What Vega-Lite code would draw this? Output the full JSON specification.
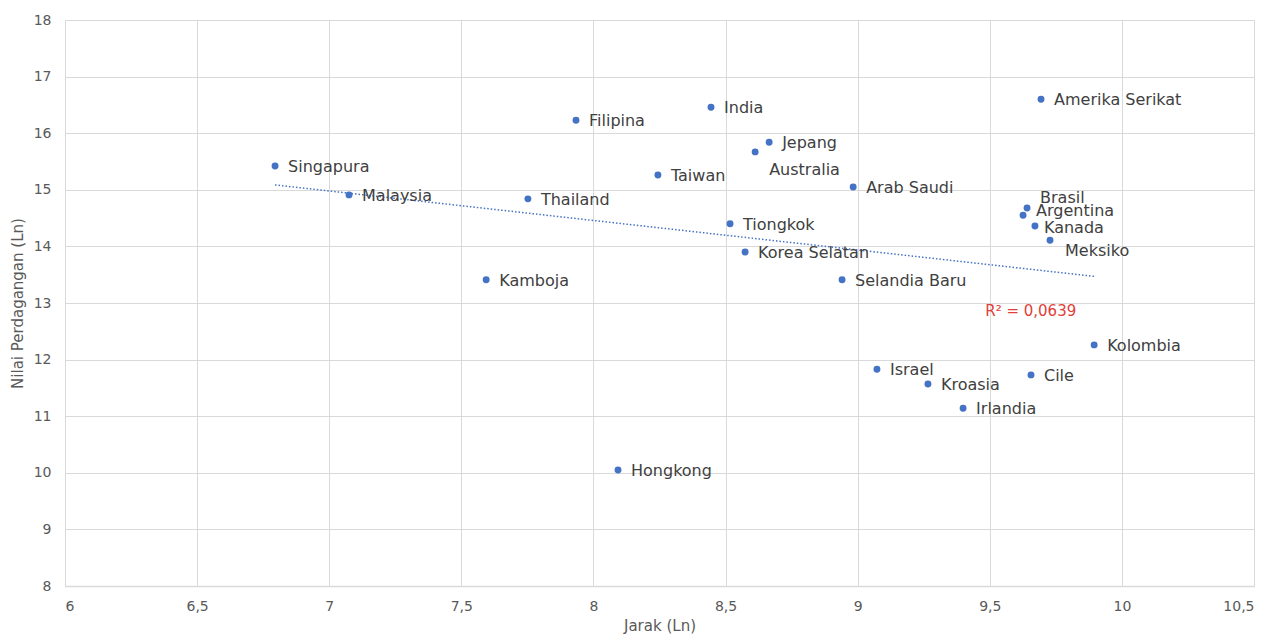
{
  "$schema": "https://vega.github.io/schema/vega-lite/v6.json",
  "width": 1189,
  "height": 566,
  "autosize": {"type": "none"},
  "padding": {"left": 65, "top": 20, "right": 27, "bottom": 55},
  "background": "white",
  "datasets": {
    "pts": [
      {"negara": "Singapura", "jarak": 6.795, "nilai": 15.42},
      {"negara": "Malaysia", "jarak": 7.075, "nilai": 14.91},
      {"negara": "Kamboja", "jarak": 7.594, "nilai": 13.41},
      {"negara": "Thailand", "jarak": 7.752, "nilai": 14.84},
      {"negara": "Filipina", "jarak": 7.934, "nilai": 16.23},
      {"negara": "Hongkong", "jarak": 8.093, "nilai": 10.05},
      {"negara": "Taiwan", "jarak": 8.244, "nilai": 15.26},
      {"negara": "India", "jarak": 8.445, "nilai": 16.46},
      {"negara": "Tiongkok", "jarak": 8.517, "nilai": 14.40},
      {"negara": "Korea Selatan", "jarak": 8.574, "nilai": 13.90},
      {"negara": "Australia", "jarak": 8.612, "nilai": 15.67},
      {"negara": "Jepang", "jarak": 8.665, "nilai": 15.84},
      {"negara": "Selandia Baru", "jarak": 8.941, "nilai": 13.41},
      {"negara": "Arab Saudi", "jarak": 8.983, "nilai": 15.05},
      {"negara": "Israel", "jarak": 9.073, "nilai": 11.83},
      {"negara": "Kroasia", "jarak": 9.266, "nilai": 11.57},
      {"negara": "Irlandia", "jarak": 9.399, "nilai": 11.14},
      {"negara": "Argentina", "jarak": 9.626, "nilai": 14.55},
      {"negara": "Brasil", "jarak": 9.641, "nilai": 14.68},
      {"negara": "Cile", "jarak": 9.656, "nilai": 11.73},
      {"negara": "Kanada", "jarak": 9.671, "nilai": 14.36},
      {"negara": "Amerika Serikat", "jarak": 9.694, "nilai": 16.60},
      {"negara": "Meksiko", "jarak": 9.728, "nilai": 14.11},
      {"negara": "Kolombia", "jarak": 9.895, "nilai": 12.26}
    ],
    "r2": [{"teks": "R² = 0,0639", "jarak": 9.655, "nilai": 12.86}]
  },
  "data": {"name": "pts"},
  "encoding": {
    "x": {
      "field": "jarak", "type": "quantitative",
      "scale": {"domain": [6, 10.5], "nice": false, "zero": false},
      "axis": {
        "title": "Jarak (Ln)", "values": [6, 6.5, 7, 7.5, 8, 8.5, 9, 9.5, 10, 10.5],
        "labelExpr": "replace(format(datum.value, '~g'), '.', ',')",
        "grid": true, "gridColor": "#d9d9d9", "gridWidth": 1,
        "domain": true, "domainColor": "#d9d9d9", "domainWidth": 1.5,
        "ticks": false, "labelPadding": 13,
        "labelFont": "DejaVu Sans", "labelFontSize": 14, "labelColor": "#595959",
        "titleFont": "DejaVu Sans", "titleFontSize": 15, "titleFontWeight": "normal", "titleColor": "#595959",
        "titlePadding": 5
      }
    },
    "y": {
      "field": "nilai", "type": "quantitative",
      "scale": {"domain": [8, 18], "nice": false, "zero": false},
      "axis": {
        "title": "Nilai Perdagangan (Ln)", "values": [8, 9, 10, 11, 12, 13, 14, 15, 16, 17, 18],
        "grid": true, "gridColor": "#d9d9d9", "gridWidth": 1,
        "domain": false, "ticks": false, "labelPadding": 14,
        "labelFont": "DejaVu Sans", "labelFontSize": 14, "labelColor": "#595959",
        "titleFont": "DejaVu Sans", "titleFontSize": 15, "titleFontWeight": "normal", "titleColor": "#595959",
        "titlePadding": 8
      }
    }
  },
  "layer": [
    {
      "transform": [{"regression": "nilai", "on": "jarak", "method": "linear"}],
      "mark": {"type": "line", "color": "#4472C4", "strokeWidth": 1.5, "strokeDash": [1.5, 2]},
      "encoding": {}
    },
    {
      "mark": {"type": "circle", "color": "#4472C4", "size": 48, "opacity": 1}
    },
    {
      "transform": [{"filter": "indexof(['Australia','Brasil','Argentina','Kanada','Meksiko'], datum.negara) < 0"}],
      "mark": {"type": "text", "align": "left", "baseline": "middle", "dx": 13, "dy": 1, "font": "DejaVu Sans", "fontSize": 16, "color": "#404040"},
      "encoding": {"text": {"field": "negara"}}
    },
    {
      "transform": [{"filter": "datum.negara == 'Australia'"}],
      "mark": {"type": "text", "align": "left", "baseline": "middle", "dx": 14, "dy": 18, "font": "DejaVu Sans", "fontSize": 16, "color": "#404040"},
      "encoding": {"text": {"field": "negara"}}
    },
    {
      "transform": [{"filter": "datum.negara == 'Brasil'"}],
      "mark": {"type": "text", "align": "left", "baseline": "middle", "dx": 13, "dy": -10, "font": "DejaVu Sans", "fontSize": 16, "color": "#404040"},
      "encoding": {"text": {"field": "negara"}}
    },
    {
      "transform": [{"filter": "datum.negara == 'Argentina'"}],
      "mark": {"type": "text", "align": "left", "baseline": "middle", "dx": 13, "dy": -4, "font": "DejaVu Sans", "fontSize": 16, "color": "#404040"},
      "encoding": {"text": {"field": "negara"}}
    },
    {
      "transform": [{"filter": "datum.negara == 'Kanada'"}],
      "mark": {"type": "text", "align": "left", "baseline": "middle", "dx": 9, "dy": 2, "font": "DejaVu Sans", "fontSize": 16, "color": "#404040"},
      "encoding": {"text": {"field": "negara"}}
    },
    {
      "transform": [{"filter": "datum.negara == 'Meksiko'"}],
      "mark": {"type": "text", "align": "left", "baseline": "middle", "dx": 15, "dy": 11, "font": "DejaVu Sans", "fontSize": 16, "color": "#404040"},
      "encoding": {"text": {"field": "negara"}}
    },
    {
      "data": {"name": "r2"},
      "mark": {"type": "text", "align": "center", "baseline": "middle", "font": "DejaVu Sans", "fontSize": 15, "color": "#E0403A"},
      "encoding": {"text": {"field": "teks"}}
    }
  ],
  "config": {"view": {"stroke": null}}
}
